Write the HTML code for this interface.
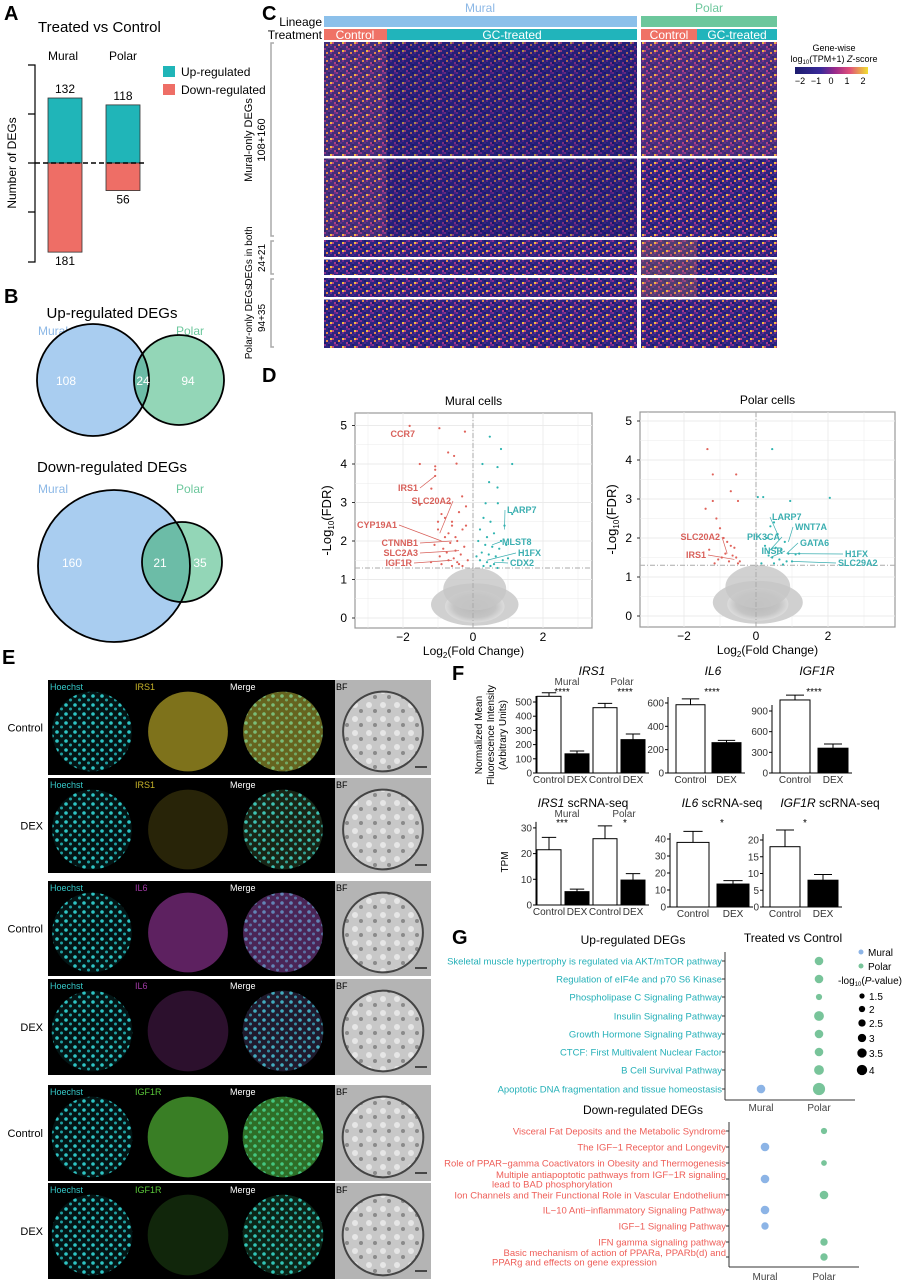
<!DOCTYPE html>
<html><head><meta charset="utf-8">
<style>
html,body{margin:0;padding:0;background:#fff;}
svg{display:block;font-family:"Liberation Sans",Arial,sans-serif;}
</style></head>
<body>
<svg id="fig" width="906" height="1280" viewBox="0 0 906 1280" xmlns="http://www.w3.org/2000/svg">
<defs>
  <pattern id="hm" width="12" height="8" patternUnits="userSpaceOnUse">
    <rect width="12" height="8" fill="#2c2480"/>
    <rect x="0" y="0" width="2" height="2" fill="#8a2f8c"/>
    <rect x="4" y="0" width="2" height="2" fill="#1d1c6e"/>
    <rect x="8" y="2" width="2" height="2" fill="#c2477e"/>
    <rect x="2" y="4" width="2" height="2" fill="#e68a4a"/>
    <rect x="6" y="4" width="2" height="2" fill="#6a2a90"/>
    <rect x="10" y="6" width="2" height="2" fill="#a83a88"/>
    <rect x="4" y="6" width="2" height="2" fill="#4a2a8c"/>
    <rect x="0" y="6" width="2" height="2" fill="#1a1a6a"/>
    <rect x="10" y="0" width="2" height="2" fill="#5b2990"/>
    <rect x="6" y="2" width="2" height="2" fill="#f0c040"/>
  </pattern>
  <pattern id="dots" width="9" height="9" patternUnits="userSpaceOnUse">
    <rect width="9" height="9" fill="#031414"/>
    <circle cx="3" cy="3" r="1.8" fill="#2ec4c4"/>
    <circle cx="7.5" cy="7" r="1.5" fill="#1f9ea0"/>
  </pattern>
  <pattern id="bfp" width="14" height="14" patternUnits="userSpaceOnUse">
    <rect width="14" height="14" fill="#c8c8c8"/>
    <circle cx="5" cy="5" r="3" fill="#e6e6e6"/>
    <circle cx="11" cy="11" r="2" fill="#8a8a8a"/>
  </pattern>
  <linearGradient id="cbar" x1="0" x2="1">
    <stop offset="0" stop-color="#1c1c6e"/><stop offset=".35" stop-color="#3a2a9a"/>
    <stop offset=".55" stop-color="#9a2a8a"/><stop offset=".75" stop-color="#e0507a"/>
    <stop offset="1" stop-color="#f0e030"/>
  </linearGradient>
  <radialGradient id="grayc"><stop offset="0" stop-color="#b8b8b8"/><stop offset=".7" stop-color="#c4c4c4"/><stop offset="1" stop-color="#dcdcdc"/></radialGradient>
  <clipPath id="cBlue1"><circle cx="93" cy="380" r="56"/></clipPath>
  <clipPath id="cBlue2"><circle cx="114" cy="566" r="76"/></clipPath>
</defs>

<g font-size="12">
  <text x="4" y="20" font-size="20" font-weight="bold">A</text>
  <text x="38" y="32" font-size="15">Treated vs Control</text>
  <text x="63" y="60" text-anchor="middle">Mural</text>
  <text x="123" y="60" text-anchor="middle">Polar</text>
  <text transform="translate(16,163) rotate(-90)" text-anchor="middle">Number of DEGs</text>
  <rect x="163" y="66" width="12" height="11" fill="#20b5b8"/>
  <text x="181" y="76">Up-regulated</text>
  <rect x="163" y="84" width="12" height="11" fill="#ee6e66"/>
  <text x="181" y="94">Down-regulated</text>
  <g id="aBars"></g>
</g>

<g>
  <text x="4" y="303" font-size="20" font-weight="bold">B</text>
  <text x="112" y="318" font-size="15" text-anchor="middle">Up-regulated DEGs</text>
  <text x="38" y="335" font-size="12" fill="#8cb8e6">Mural</text>
  <text x="176" y="335" font-size="12" fill="#6cc79c">Polar</text>
  <circle cx="93" cy="380" r="56" fill="#a9cdf0"/>
  <circle cx="179" cy="380" r="45" fill="#93d6b7"/>
  <circle cx="179" cy="380" r="45" fill="#6cbca7" clip-path="url(#cBlue1)"/>
  <circle cx="93" cy="380" r="56" fill="none" stroke="#000" stroke-width="1.8"/>
  <circle cx="179" cy="380" r="45" fill="none" stroke="#000" stroke-width="1.8"/>
  <text x="66" y="385" font-size="12" fill="#fff" text-anchor="middle">108</text>
  <text x="143" y="385" font-size="12" fill="#fff" text-anchor="middle">24</text>
  <text x="188" y="385" font-size="12" fill="#fff" text-anchor="middle">94</text>
  <text x="112" y="472" font-size="15" text-anchor="middle">Down-regulated DEGs</text>
  <text x="38" y="493" font-size="12" fill="#8cb8e6">Mural</text>
  <text x="176" y="493" font-size="12" fill="#6cc79c">Polar</text>
  <circle cx="114" cy="566" r="76" fill="#a9cdf0"/>
  <circle cx="182" cy="562" r="40" fill="#93d6b7"/>
  <circle cx="182" cy="562" r="40" fill="#6cbca7" clip-path="url(#cBlue2)"/>
  <circle cx="114" cy="566" r="76" fill="none" stroke="#000" stroke-width="1.8"/>
  <circle cx="182" cy="562" r="40" fill="none" stroke="#000" stroke-width="1.8"/>
  <text x="72" y="567" font-size="12" fill="#fff" text-anchor="middle">160</text>
  <text x="160" y="567" font-size="12" fill="#fff" text-anchor="middle">21</text>
  <text x="200" y="567" font-size="12" fill="#fff" text-anchor="middle">35</text>
</g>

<g>
  <text x="262" y="20" font-size="20" font-weight="bold">C</text>
  <text x="480" y="12" font-size="12" fill="#8cb8e6" text-anchor="middle">Mural</text>
  <text x="709" y="12" font-size="12" fill="#6cc79c" text-anchor="middle">Polar</text>
  <text x="322" y="26" font-size="12" text-anchor="end">Lineage</text>
  <text x="322" y="39" font-size="12" text-anchor="end">Treatment</text>
  <rect x="324" y="16" width="313" height="11" fill="#8cc0ea"/>
  <rect x="641" y="16" width="136" height="11" fill="#6cc79c"/>
  <rect x="324" y="29" width="63" height="11" fill="#ef7266"/>
  <rect x="387" y="29" width="250" height="11" fill="#21b4bb"/>
  <rect x="641" y="29" width="56" height="11" fill="#ef7266"/>
  <rect x="697" y="29" width="80" height="11" fill="#21b4bb"/>
  <text x="355" y="39" font-size="12" fill="#fff" text-anchor="middle">Control</text>
  <text x="512" y="39" font-size="12" fill="#fff" text-anchor="middle">GC-treated</text>
  <text x="669" y="39" font-size="12" fill="#fff" text-anchor="middle">Control</text>
  <text x="737" y="39" font-size="12" fill="#fff" text-anchor="middle">GC-treated</text>
  <rect x="324" y="42" width="313" height="306" fill="url(#hm)"/>
  <rect x="641" y="42" width="136" height="306" fill="url(#hm)"/>
  <rect x="387" y="42" width="250" height="196" fill="#141466" opacity="0.3"/>
  <rect x="324" y="42" width="63" height="196" fill="#f07a50" opacity="0.12"/>
  <rect x="641" y="42" width="136" height="115" fill="#e06a6a" opacity="0.15"/>
  <rect x="641" y="240" width="56" height="35" fill="#f0a040" opacity="0.2"/>
  <rect x="641" y="278" width="56" height="20" fill="#f0a040" opacity="0.2"/>
  <rect x="324" y="156" width="453" height="2.5" fill="#fff"/>
  <rect x="324" y="237" width="453" height="3" fill="#fff"/>
  <rect x="324" y="257" width="453" height="2.5" fill="#fff"/>
  <rect x="324" y="275" width="453" height="3" fill="#fff"/>
  <rect x="324" y="297" width="453" height="2.5" fill="#fff"/>
  <path d="M274,43 H271 V236 H274 M274,241 H271 V274 H274 M274,279 H271 V347 H274" fill="none" stroke="#aaa" stroke-width="1.5"/>
  <text transform="translate(252,140) rotate(-90)" font-size="11" text-anchor="middle">Mural-only DEGs</text>
  <text transform="translate(265,140) rotate(-90)" font-size="11" text-anchor="middle">108+160</text>
  <text transform="translate(252,256) rotate(-90)" font-size="10" text-anchor="middle">DEGs in both</text>
  <text transform="translate(265,258) rotate(-90)" font-size="10" text-anchor="middle">24+21</text>
  <text transform="translate(252,322) rotate(-90)" font-size="10" text-anchor="middle">Polar-only DEGs</text>
  <text transform="translate(265,318) rotate(-90)" font-size="10" text-anchor="middle">94+35</text>
  <text x="834" y="51" font-size="9" text-anchor="middle">Gene-wise</text>
  <text x="834" y="62" font-size="9" text-anchor="middle">log<tspan font-size="6" dy="2">10</tspan><tspan dy="-2">(TPM+1) </tspan><tspan font-style="italic">Z</tspan>-score</text>
  <rect x="795" y="67" width="73" height="7" fill="url(#cbar)"/>
  <g font-size="9" text-anchor="middle"><text x="800" y="84">−2</text><text x="816" y="84">−1</text><text x="831" y="84">0</text><text x="847" y="84">1</text><text x="863" y="84">2</text></g>
</g>

<g>
  <text x="262" y="382" font-size="20" font-weight="bold">D</text>
  <g id="dMural"></g>
  <g id="dPolar"></g>
</g>

<g>
  <text x="2" y="664" font-size="20" font-weight="bold">E</text>
  <g id="eRows"></g>
</g>

<g>
  <text x="452" y="680" font-size="20" font-weight="bold">F</text>
  <text transform="translate(482,735) rotate(-90)" font-size="10" text-anchor="middle">Normalized Mean</text>
  <text transform="translate(494,735) rotate(-90)" font-size="10" text-anchor="middle">Fluorescence Intensity</text>
  <text transform="translate(506,735) rotate(-90)" font-size="10" text-anchor="middle">(Arbitrary Units)</text>
  <text transform="translate(508,862) rotate(-90)" font-size="10" text-anchor="middle">TPM</text>
  <g id="fCharts" font-size="10"></g>
</g>

<g>
  <text x="452" y="944" font-size="20" font-weight="bold">G</text>
  <text x="633" y="944" font-size="12" text-anchor="middle">Up-regulated DEGs</text>
  <text x="793" y="942" font-size="12" text-anchor="middle">Treated vs Control</text>
  <text x="643" y="1114" font-size="12" text-anchor="middle">Down-regulated DEGs</text>
  <circle cx="861" cy="952" r="2.5" fill="#8cb4e6"/><text x="868" y="956" font-size="10">Mural</text>
  <circle cx="861" cy="966" r="2.5" fill="#78c49a"/><text x="868" y="970" font-size="10">Polar</text>
  <text x="838" y="984" font-size="10">-log<tspan font-size="6" dy="2">10</tspan><tspan dy="-2">(</tspan><tspan font-style="italic">P</tspan>-value)</text>
  <g id="gChart"></g>
</g>
</svg>

<script>
// ---------- Panel A data ----------
const aGroups = ['Mural', 'Polar'];
const aUp = [132, 118];
const aDown = [181, 56];

// ---------- Panel D data (log2FC, -log10 FDR) ----------
const dMuralRedX = [-1.81,-0.96,-0.23,-0.71,-0.54,-0.47,-1.52,-1.08,-1.08,-1.08,-1.19,-1.52,-0.31,-0.66,-0.9,-0.8,-0.6,-0.4,-0.2,-1.0,-0.7,-0.5,-0.3,-1.1,-0.85,-0.65,-0.45,-0.25,-0.95,-0.75,-0.55,-0.35,-0.15,-1.2,-0.9,-0.6,-0.4,-0.7,-0.5,-0.3,-0.8,-1.0,-0.2,-0.6,-0.45];
const dMuralRedY = [4.99,4.93,4.84,4.3,4.21,4.01,4.0,3.94,3.85,3.69,3.36,2.94,3.16,2.98,2.7,2.6,2.5,2.75,2.4,2.3,2.2,2.1,2.3,1.9,1.8,1.95,2.0,1.85,1.6,1.7,1.55,1.65,1.5,1.45,1.4,1.35,1.4,1.5,1.75,1.35,2.1,2.5,2.9,2.4,1.45];
const dMuralTealX = [0.48,0.8,0.7,1.12,0.27,0.46,0.7,0.36,0.71,1.12,0.3,0.5,0.9,0.2,0.6,0.4,0.8,0.15,0.35,0.55,0.75,0.25,0.45,0.65,1.0,0.2,0.4,0.6,0.85,0.3,0.5,0.1,0.7,0.95];
const dMuralTealY = [4.71,4.39,3.92,4.0,4.0,3.53,3.39,2.98,2.98,2.7,2.6,2.5,2.4,2.3,2.2,2.1,2.0,2.0,1.9,1.85,1.8,1.7,1.65,1.6,1.55,1.5,1.45,1.4,1.5,1.35,1.35,1.6,1.3,1.9];
const dPolarRedX = [-1.35,-1.2,-0.55,-0.7,-0.5,-1.2,-1.4,-1.1,-1.0,-0.9,-0.8,-0.7,-0.6,-1.3,-0.85,-0.65,-0.55,-1.05,-0.75,-0.5,-1.15,-0.95,-0.45];
const dPolarRedY = [4.28,3.63,3.63,3.2,2.95,2.95,2.75,2.5,2.25,2.0,1.9,1.8,1.75,1.7,1.6,1.55,1.5,1.45,1.4,1.35,1.35,1.5,1.4];
const dPolarTealX = [0.45,0.05,0.2,0.95,0.5,0.4,0.6,0.3,0.8,0.25,0.55,0.7,0.9,1.1,0.35,0.45,0.65,0.85,1.0,0.15,0.5,0.75,1.2,2.05];
const dPolarTealY = [4.28,3.05,3.05,2.95,2.4,2.3,2.1,2.0,1.9,1.8,1.75,1.7,1.6,1.58,1.55,1.5,1.45,1.4,1.4,1.35,1.35,1.32,1.6,3.03];

// ---------- Panel F data ----------
const fIrs1Vals = [540, 135, 460, 235];
const fIrs1Err = [25, 20, 30, 40];
const fIl6Vals = [585, 260];
const fIl6Err = [50, 20];
const fIgf1rVals = [1060, 360];
const fIgf1rErr = [70, 60];
const fIrs1SeqVals = [21.5, 5.2, 25.8, 9.7];
const fIrs1SeqErr = [4.8, 1.0, 5.0, 2.5];
const fIl6SeqVals = [38, 13.5];
const fIl6SeqErr = [6.5, 2.0];
const fIgf1rSeqVals = [18, 8];
const fIgf1rSeqErr = [5, 1.7];

// ---------- Panel G data ----------
const gUpTerms = ['Skeletal muscle hypertrophy is regulated via AKT/mTOR pathway','Regulation of eIF4e and p70 S6 Kinase','Phospholipase C Signaling Pathway','Insulin Signaling Pathway','Growth Hormone Signaling Pathway','CTCF: First Multivalent Nuclear Factor','B Cell Survival Pathway','Apoptotic DNA fragmentation and tissue homeostasis'];
const gUpMural = [null,null,null,null,null,null,null,2.5];
const gUpPolar = [2.5,2.5,1.5,3,2.5,2.5,3,4];
const gDownTerms = ['Visceral Fat Deposits and the Metabolic Syndrome','The IGF−1 Receptor and Longevity','Role of PPAR−gamma Coactivators in Obesity and Thermogenesis','Multiple antiapoptotic pathways from IGF−1R signaling|lead to BAD phosphorylation','Ion Channels and Their Functional Role in Vascular Endothelium','IL−10 Anti−inflammatory Signaling Pathway','IGF−1 Signaling Pathway','IFN gamma signaling pathway','Basic mechanism of action of PPARa, PPARb(d) and|PPARg and effects on gene expression'];
const gDownMural = [null,2.5,null,2.5,null,2.5,2,null,null];
const gDownPolar = [1.5,null,1.3,null,2.5,null,null,2,2];
const gLegendSizes = [1.5,2,2.5,3,3.5,4];

const NS = 'http://www.w3.org/2000/svg';
function mk(tag, attrs, parent){const e=document.createElementNS(NS,tag);for(const k in attrs)e.setAttribute(k,attrs[k]);parent.appendChild(e);return e;}
function txt(x,y,s,attrs,parent){const t=mk('text',Object.assign({x:x,y:y},attrs||{}),parent);t.textContent=s;return t;}

// ---------- Panel A ----------
(function(){
  const g=document.getElementById('aBars');
  const zeroY=163, k=0.4924;
  const yA=v=>zeroY - v*k;
  mk('path',{d:'M28,65 H35 V262 H28 M28,114 H35 M28,163 H35 M28,212 H35',fill:'none',stroke:'#000','stroke-width':1.2},g);
  const xs=[48,106];
  aGroups.forEach((n,i)=>{
    const u=mk('rect',{x:xs[i],y:yA(aUp[i]),width:34,height:zeroY-yA(aUp[i]),fill:'#20b5b8',stroke:'#333','stroke-width':0.8},g);
    
    
    const d=mk('rect',{x:xs[i],y:zeroY,width:34,height:aDown[i]*k,fill:'#ee6e66',stroke:'#333','stroke-width':0.8},g);
    
    
    txt(xs[i]+17,yA(aUp[i])-5,String(aUp[i]),{'font-size':12,'text-anchor':'middle'},g);
    txt(xs[i]+17,zeroY+aDown[i]*k+13,String(aDown[i]),{'font-size':12,'text-anchor':'middle'},g);
  });
  mk('line',{x1:35,x2:146,y1:163,y2:163,stroke:'#000','stroke-width':1.5,'stroke-dasharray':'5,3'},g);
})();

// ---------- Panel D ----------
function volcano(id, name, frame, x0px, unitX, y0px, unitY, rx, ry, tx, ty){
  const g=document.getElementById(id);
  const X=v=>x0px+v*unitX, Y=v=>y0px-v*unitY;
  mk('rect',{x:frame[0],y:frame[1],width:frame[2]-frame[0],height:frame[3]-frame[1],fill:'#fff',stroke:'#999','stroke-width':1.2},g);
  for(let v=0;v<=5;v+=0.5) mk('line',{x1:frame[0],x2:frame[2],y1:Y(v),y2:Y(v),stroke:'#ebebeb','stroke-width':v%1?0.5:0.9},g);
  for(let v=-3;v<=3;v+=1) if(X(v)>frame[0] && X(v)<frame[2]) mk('line',{x1:X(v),x2:X(v),y1:frame[1],y2:frame[3],stroke:'#ebebeb','stroke-width':v%2?0.5:0.9},g);
  const t=txt((frame[0]+frame[2])/2,frame[1]-8,name,{'font-size':12,'text-anchor':'middle'},g);
  
  
  for(let v=0;v<=5;v++){ txt(frame[0]-8,Y(v)+4,String(v),{'font-size':12,'text-anchor':'end'},g); mk('line',{x1:frame[0]-3,x2:frame[0],y1:Y(v),y2:Y(v),stroke:'#333'},g);}
  [-2,0,2].forEach(v=>{txt(X(v),frame[3]+13,v<0?'−'+Math.abs(v):String(v),{'font-size':12,'text-anchor':'middle'},g);});
  const xl=mk('text',{x:(frame[0]+frame[2])/2,y:frame[3]+27,'font-size':12,'text-anchor':'middle'},g);
  xl.innerHTML='Log<tspan font-size="8" dy="3">2</tspan><tspan dy="-3">(Fold Change)</tspan>';
  const yl=mk('text',{transform:'translate('+(frame[0]-24)+','+((frame[1]+frame[3])/2)+') rotate(-90)','font-size':13,'text-anchor':'middle'},g);
  yl.innerHTML='-Log<tspan font-size="8" dy="3">10</tspan><tspan dy="-3">(FDR)</tspan>';
  mk('ellipse',{cx:X(0.05),cy:Y(0.35),rx:unitX*1.25,ry:unitY*0.55,fill:'#d0d0d0'},g);
  mk('ellipse',{cx:X(0.05),cy:Y(0.3),rx:unitX*0.85,ry:unitY*0.42,fill:'url(#grayc)'},g);
  mk('ellipse',{cx:X(0.05),cy:Y(0.75),rx:unitX*0.9,ry:unitY*0.55,fill:'#c6c6c6',opacity:0.8},g);
  mk('line',{x1:frame[0],x2:frame[2],y1:Y(1.3),y2:Y(1.3),stroke:'#aaa','stroke-dasharray':'5,2,1,2'},g);
  mk('line',{x1:X(0),x2:X(0),y1:frame[1],y2:frame[3],stroke:'#aaa','stroke-dasharray':'5,2,1,2'},g);
  rx.forEach((v,i)=>{const c=mk('circle',{cx:X(v),cy:Y(ry[i]),r:1.1,fill:'#e0625a'},g);
    
    });
  tx.forEach((v,i)=>{const c=mk('circle',{cx:X(v),cy:Y(ty[i]),r:1.1,fill:'#2fb4b0'},g);
    
    });
  return {X:X,Y:Y,g:g};
}
(function(){
  const m=volcano('dMural','Mural cells',[355,413,592,628],473,35,618,38.5,dMuralRedX,dMuralRedY,dMuralTealX,dMuralTealY);
  const red='#d8605a', tl='#3aaeb0';
  function lab(gg,s,lx,ly,px,py,c,anchor){txt(lx,ly,s,{'font-size':9,fill:c,'font-weight':'bold','text-anchor':anchor||'end'},gg);mk('line',{x1:lx+(anchor==='start'?-2:2),y1:ly-3,x2:px,y2:py,stroke:c,'stroke-width':0.7},gg);}
  txt(415,437,'CCR7',{'font-size':9,fill:red,'font-weight':'bold','text-anchor':'end'},m.g);
  lab(m.g,'IRS1',418,491,m.X(-1.08),m.Y(3.69),red);
  lab(m.g,'SLC20A2',451,504,m.X(-0.95),m.Y(2.2),red);
  lab(m.g,'CYP19A1',397,528,m.X(-0.9),m.Y(2.0),red);
  lab(m.g,'CTNNB1',418,546,m.X(-0.6),m.Y(2.0),red);
  lab(m.g,'SLC2A3',418,556,m.X(-0.4),m.Y(1.75),red);
  lab(m.g,'IGF1R',412,566,m.X(-0.6),m.Y(1.5),red);
  lab(m.g,'LARP7',507,513,m.X(0.9),m.Y(2.3),tl,'start');
  lab(m.g,'MLST8',502,545,m.X(0.55),m.Y(1.9),tl,'start');
  lab(m.g,'H1FX',518,556,m.X(0.4),m.Y(1.5),tl,'start');
  lab(m.g,'CDX2',510,566,m.X(0.6),m.Y(1.45),tl,'start');
  const p=volcano('dPolar','Polar cells',[640,412,895,627],756,36,616,39,dPolarRedX,dPolarRedY,dPolarTealX,dPolarTealY);
  lab(p.g,'SLC20A2',720,540,p.X(-0.8),p.Y(1.6),red);
  lab(p.g,'IRS1',706,558,p.X(-0.6),p.Y(1.45),red);
  lab(p.g,'LARP7',772,520,p.X(0.6),p.Y(2.1),tl,'start');
  lab(p.g,'WNT7A',795,530,p.X(0.9),p.Y(1.9),tl,'start');
  lab(p.g,'PIK3CA',780,540,p.X(0.3),p.Y(1.6),tl,'end');
  lab(p.g,'GATA6',800,546,p.X(0.85),p.Y(1.6),tl,'start');
  lab(p.g,'INSR',783,554,p.X(0.4),p.Y(1.5),tl,'end');
  lab(p.g,'H1FX',845,557,p.X(0.9),p.Y(1.6),tl,'start');
  lab(p.g,'SLC29A2',838,566,p.X(1.0),p.Y(1.4),tl,'start');
})();

// ---------- Panel E ----------
(function(){
  const g=document.getElementById('eRows');
  const rows=[
    {y:680,h:95,lab:'Control',marker:'IRS1',col:'#c8b42a',bright:1},
    {y:778,h:95,lab:'DEX',marker:'IRS1',col:'#c8b42a',bright:0.22},
    {y:881,h:95,lab:'Control',marker:'IL6',col:'#a23aa6',bright:0.9},
    {y:979,h:96,lab:'DEX',marker:'IL6',col:'#a23aa6',bright:0.35},
    {y:1085,h:96,lab:'Control',marker:'IGF1R',col:'#5ac83a',bright:1},
    {y:1183,h:96,lab:'DEX',marker:'IGF1R',col:'#5ac83a',bright:0.2}
  ];
  rows.forEach((r,i)=>{
    const rg=mk('g',{},g);
    
    
    mk('rect',{x:48,y:r.y,width:287,height:r.h,fill:'#000'},rg);
    mk('rect',{x:335,y:r.y,width:96,height:r.h,fill:'#b4b4b4'},rg);
    const cy=r.y+r.h/2+4, rad=r.h*0.42;
    mk('circle',{cx:92,cy:cy,r:rad,fill:'url(#dots)'},rg);
    mk('circle',{cx:188,cy:cy,r:rad,fill:r.col,opacity:0.55*r.bright+0.08},rg);
    mk('circle',{cx:283,cy:cy,r:rad,fill:'url(#dots)'},rg);
    mk('circle',{cx:283,cy:cy,r:rad,fill:r.col,opacity:0.5*r.bright},rg);
    mk('circle',{cx:383,cy:cy,r:rad,fill:'url(#bfp)',stroke:'#444','stroke-width':2},rg);
    mk('line',{x1:415,x2:427,y1:r.y+r.h-8,y2:r.y+r.h-8,stroke:'#222','stroke-width':1.5},rg);
    txt(50,r.y+10,'Hoechst',{'font-size':9,fill:'#35c8c8'},rg);
    txt(135,r.y+10,r.marker,{'font-size':9,fill:r.col},rg);
    txt(230,r.y+10,'Merge',{'font-size':9,fill:'#fff'},rg);
    txt(336,r.y+10,'BF',{'font-size':9,fill:'#000'},rg);
    txt(43,r.y+r.h/2+4,r.lab,{'font-size':11,'text-anchor':'end'},rg);
  });
})();

// ---------- Panel F ----------
function barChart(name, axisX, zeroY, pxPerUnit, ticks, vals, errs, cats, barStart, barW, step, title, titleX, titleY, stars, starX, starY){
  const g=mk('g',{},document.getElementById('fCharts'));
  
  
  const Y=v=>zeroY-v*pxPerUnit;
  const top=Y(ticks[ticks.length-1])-6;
  mk('line',{x1:axisX,x2:axisX,y1:top,y2:zeroY,stroke:'#000','stroke-width':1},g);
  const right=barStart+step*(vals.length-1)+barW+4;
  mk('line',{x1:axisX,x2:right,y1:zeroY,y2:zeroY,stroke:'#000','stroke-width':1},g);
  ticks.forEach(t=>{mk('line',{x1:axisX-3,x2:axisX,y1:Y(t),y2:Y(t),stroke:'#000'},g);txt(axisX-4,Y(t)+3.5,String(t),{'font-size':10,'text-anchor':'end',fill:'#333'},g);});
  vals.forEach((v,i)=>{
    const x=barStart+i*step;
    const b=mk('rect',{x:x,y:Y(v),width:barW,height:v*pxPerUnit,fill:i%2?'#000':'#fff',stroke:'#000','stroke-width':1},g);
    
    
    const ex=x+barW/2;
    mk('path',{d:'M'+ex+','+Y(v)+' V'+Y(v+errs[i])+' M'+(ex-barW*0.3)+','+Y(v+errs[i])+' H'+(ex+barW*0.3),stroke:'#000',fill:'none'},g);
    txt(ex,zeroY+10,cats[i],{'font-size':10,'text-anchor':'middle',fill:'#333'},g);
  });
  const t=mk('text',{x:titleX,y:titleY,'font-size':12,'text-anchor':'middle'},g);
  t.innerHTML=title;
  stars.forEach((s,i)=>txt(starX[i],starY,s,{'font-size':10,'text-anchor':'middle'},g));
  return g;
}
(function(){
  const c4=['Control','DEX','Control','DEX'], c2=['Control','DEX'];
  const g1=barChart('chart-irs1-if',536,773,0.142,[0,100,200,300,400,500],fIrs1Vals,fIrs1Err,c4,537,24,28,'<tspan font-style="italic">IRS1</tspan>',592,675,['****','****'],[562,625],695);
  txt(567,685,'Mural',{'font-size':10,'text-anchor':'middle',fill:'#444'},g1);
  txt(622,685,'Polar',{'font-size':10,'text-anchor':'middle',fill:'#444'},g1);
  barChart('chart-il6-if',668,773,0.1167,[0,200,400,600],fIl6Vals,fIl6Err,c2,676,29,36,'<tspan font-style="italic">IL6</tspan>',713,675,['****'],[712],695);
  barChart('chart-igf1r-if',772,773,0.0689,[0,300,600,900],fIgf1rVals,fIgf1rErr,c2,780,30,38,'<tspan font-style="italic">IGF1R</tspan>',817,675,['****'],[814],695);
  const g4=barChart('chart-irs1-seq',536,905,2.57,[0,10,20,30],fIrs1SeqVals,fIrs1SeqErr,c4,537,24,28,'<tspan font-style="italic">IRS1</tspan> scRNA-seq',583,807,['***','*'],[562,625],826);
  txt(567,817,'Mural',{'font-size':10,'text-anchor':'middle',fill:'#444'},g4);
  txt(624,817,'Polar',{'font-size':10,'text-anchor':'middle',fill:'#444'},g4);
  barChart('chart-il6-seq',670,907,1.7,[0,10,20,30,40],fIl6SeqVals,fIl6SeqErr,c2,677,32,40,'<tspan font-style="italic">IL6</tspan> scRNA-seq',722,807,['*'],[722],826);
  barChart('chart-igf1r-seq',763,907,3.35,[0,5,10,15,20],fIgf1rSeqVals,fIgf1rSeqErr,c2,770,30,38,'<tspan font-style="italic">IGF1R</tspan> scRNA-seq',830,807,['*'],[805],826);
})();

// ---------- Panel G ----------
(function(){
  const g=document.getElementById('gChart');
  const rad=v=>1.3+v*1.2;
  function block(terms, mural, polar, axisX, y0, y1, rowYs, xM, xP, labelRight, color, bottomY){
    mk('line',{x1:axisX,x2:axisX,y1:y0,y2:y1,stroke:'#333'},g);
    mk('line',{x1:axisX,x2:axisX+130,y1:y1,y2:y1,stroke:'#333'},g);
    txt(xM,bottomY,'Mural',{'font-size':10,'text-anchor':'middle',fill:'#444'},g);
    txt(xP,bottomY,'Polar',{'font-size':10,'text-anchor':'middle',fill:'#444'},g);
    terms.forEach((t,i)=>{
      const y=rowYs[i];
      mk('line',{x1:axisX-3,x2:axisX,y1:y,y2:y,stroke:'#333'},g);
      const parts=t.split('|');
      if(parts.length===1) txt(labelRight,y+3.5,t,{'font-size':9.5,fill:color,'text-anchor':'end'},g);
      else { txt(labelRight,y-1,parts[0],{'font-size':9.5,fill:color,'text-anchor':'end'},g); txt(labelRight-234,y+8.5,parts[1],{'font-size':9.5,fill:color},g); }
      if(mural[i]!=null){const c=mk('circle',{cx:xM,cy:y,r:rad(mural[i]),fill:'#8cb4e6'},g);
        
        }
      if(polar[i]!=null){const c=mk('circle',{cx:xP,cy:y,r:rad(polar[i]),fill:'#78c49a'},g);
        
        }
    });
  }
  block(gUpTerms,gUpMural,gUpPolar,725,952,1100,[961,979,997,1016,1034,1052,1070,1089],761,819,722,'#25b0b8',1111);
  block(gDownTerms,gDownMural,gDownPolar,729,1122,1267,[1131,1147,1163,1179,1195,1210,1226,1242,1257],765,824,726,'#ee5e58',1280);
  const ly=[996,1009,1023,1038,1053,1070];
  gLegendSizes.forEach((s,i)=>{mk('circle',{cx:862,cy:ly[i],r:rad(s)*0.85,fill:'#000'},g);txt(869,ly[i]+4,String(s),{'font-size':10},g);});
})();
</script>
</body></html>
